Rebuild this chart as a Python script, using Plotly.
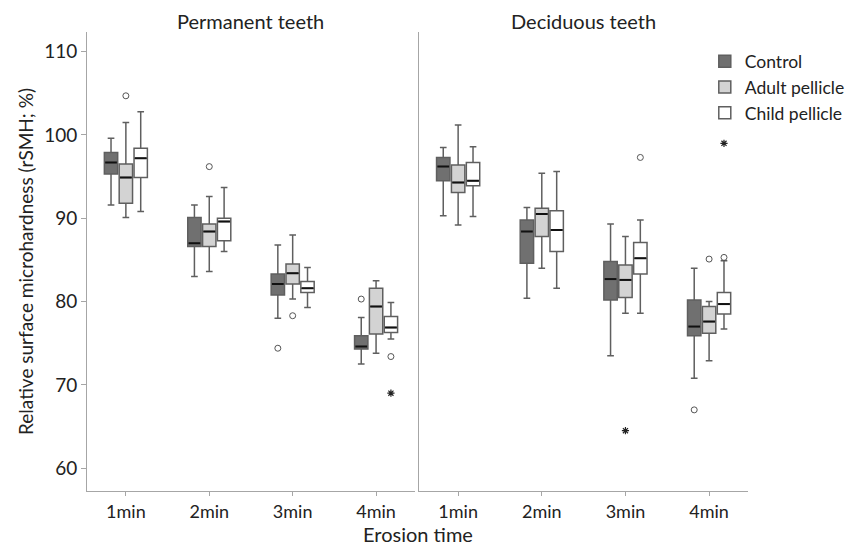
import plotly.graph_objects as go

categories = ["1min", "2min", "3min", "4min"]
series = ["Control", "Adult pellicle", "Child pellicle"]
panels = ["Permanent teeth", "Deciduous teeth"]

# Permanent teeth: per series lists over categories
perm_q1 = {"Control": [95.3, 86.6, 80.8, 74.3],
           "Adult pellicle": [91.8, 86.6, 82.1, 76.1],
           "Child pellicle": [94.9, 87.3, 81.1, 76.3]}
perm_med = {"Control": [96.7, 87.0, 82.1, 74.6],
            "Adult pellicle": [94.9, 88.4, 83.4, 79.4],
            "Child pellicle": [97.2, 89.6, 81.6, 76.9]}
perm_q3 = {"Control": [97.9, 90.1, 83.3, 75.9],
           "Adult pellicle": [96.5, 89.3, 84.5, 81.6],
           "Child pellicle": [98.4, 90.0, 82.4, 78.2]}
perm_lo = {"Control": [91.6, 83.0, 78.0, 72.5],
           "Adult pellicle": [90.1, 83.6, 80.3, 73.8],
           "Child pellicle": [90.8, 86.0, 79.3, 75.5]}
perm_hi = {"Control": [99.6, 91.6, 86.8, 78.1],
           "Adult pellicle": [101.5, 92.6, 88.0, 82.5],
           "Child pellicle": [102.8, 93.7, 84.1, 79.9]}

# Deciduous teeth
dec_q1 = {"Control": [94.5, 84.6, 80.2, 75.9],
          "Adult pellicle": [93.1, 87.8, 80.5, 76.2],
          "Child pellicle": [93.9, 86.0, 83.3, 78.5]}
dec_med = {"Control": [96.2, 88.4, 82.7, 77.0],
           "Adult pellicle": [94.3, 90.5, 82.6, 77.6],
           "Child pellicle": [94.5, 88.6, 85.2, 79.7]}
dec_q3 = {"Control": [97.3, 89.8, 84.8, 80.2],
          "Adult pellicle": [96.4, 91.2, 84.4, 79.4],
          "Child pellicle": [96.7, 90.9, 87.1, 81.1]}
dec_lo = {"Control": [90.3, 80.4, 73.5, 70.8],
          "Adult pellicle": [89.2, 84.0, 78.6, 72.9],
          "Child pellicle": [90.2, 81.6, 78.6, 76.7]}
dec_hi = {"Control": [98.5, 91.3, 89.3, 84.0],
          "Adult pellicle": [101.2, 95.4, 87.8, 80.0],
          "Child pellicle": [98.6, 95.6, 89.8, 84.9]}

# Outliers: (category index, value)
perm_circles = {"Control": [(2, 74.4), (3, 80.3)],
                "Adult pellicle": [(0, 104.7), (1, 96.2), (2, 78.3)],
                "Child pellicle": [(3, 73.4)]}
perm_stars = {"Control": [], "Adult pellicle": [], "Child pellicle": [(3, 69.0)]}
dec_circles = {"Control": [(3, 67.0)],
               "Adult pellicle": [(3, 85.1)],
               "Child pellicle": [(2, 97.3), (3, 85.3)]}
dec_stars = {"Control": [], "Adult pellicle": [(2, 64.5)], "Child pellicle": [(3, 99.0)]}

y_ticks = [60, 70, 80, 90, 100, 110]

# ---- styling ----
fills = {"Control": "#707070", "Adult pellicle": "#d3d3d3", "Child pellicle": "#ffffff"}
outline = "#5f5f5f"
offsets = {"Control": -0.178, "Adult pellicle": 0.0, "Child pellicle": 0.178}
box_w = 0.16
FONT = "Lato"
TXT = "#222222"

fig = go.Figure()

panel_data = [
    (perm_q1, perm_med, perm_q3, perm_lo, perm_hi, perm_circles, perm_stars, "x", "y"),
    (dec_q1, dec_med, dec_q3, dec_lo, dec_hi, dec_circles, dec_stars, "x2", "y2"),
]

for pi, (q1, med, q3, lo, hi, circ, stars, xa, ya) in enumerate(panel_data):
    for s in series:
        xs = [i + offsets[s] for i in range(len(categories))]
        fig.add_trace(go.Box(
            x=xs, q1=q1[s], median=med[s], q3=q3[s],
            lowerfence=lo[s], upperfence=hi[s],
            width=box_w, whiskerwidth=0.5, boxpoints=False,
            fillcolor=fills[s], line=dict(color=outline, width=1.5),
            name=s, legendgroup=s, showlegend=(pi == 0),
            xaxis=xa, yaxis=ya, orientation="v", hoverinfo="skip",
        ))
        # median lines in black
        mx, my = [], []
        for i, m in enumerate(med[s]):
            mx += [xs[i] - box_w / 2 + 0.01, xs[i] + box_w / 2 - 0.01, None]
            my += [m, m, None]
        fig.add_trace(go.Scatter(x=mx, y=my, mode="lines",
                                 line=dict(color="#111111", width=2),
                                 showlegend=False, hoverinfo="skip",
                                 xaxis=xa, yaxis=ya))
        if circ[s]:
            fig.add_trace(go.Scatter(
                x=[c + offsets[s] for c, v in circ[s]], y=[v for c, v in circ[s]],
                mode="markers", marker=dict(symbol="circle-open", size=6,
                                            color="#555555", line=dict(width=1)),
                showlegend=False, hoverinfo="skip", xaxis=xa, yaxis=ya))
        if stars[s]:
            fig.add_trace(go.Scatter(
                x=[c + offsets[s] for c, v in stars[s]], y=[v for c, v in stars[s]],
                mode="markers", marker=dict(symbol="asterisk-open", size=6,
                                            color="#222222", line=dict(width=1.2)),
                showlegend=False, hoverinfo="skip", xaxis=xa, yaxis=ya))

axis_col = "#a6a6a6"
xcommon = dict(range=[-0.466, 3.465], tickmode="array",
               tickvals=list(range(len(categories))), ticktext=categories,
               showgrid=False, zeroline=False, showline=True, linecolor=axis_col,
               linewidth=1, ticks="outside", ticklen=4, tickcolor=axis_col,
               tickfont=dict(family=FONT, size=18, color=TXT))

# page body has an 8px margin, so the figure is drawn 8px smaller and offset
fig.update_layout(
    width=854, height=539,
    margin=dict(l=79, r=107, t=24, b=56),
    plot_bgcolor="white", paper_bgcolor="white",
    showlegend=True,
    legend=dict(x=1.154, y=0.975, xanchor="right", yanchor="top",
                font=dict(family=FONT, size=17.5, color=TXT),
                bgcolor="rgba(0,0,0,0)", tracegroupgap=0, itemwidth=30),
    xaxis=dict(domain=[0, 0.496], anchor="y", **xcommon),
    xaxis2=dict(domain=[0.5025, 1], anchor="y2", **xcommon),
    yaxis=dict(range=[57.26, 112.36], tickvals=y_ticks, showgrid=False,
               zeroline=False, showline=True, linecolor=axis_col, linewidth=1,
               ticks="outside", ticklen=5, tickcolor=axis_col,
               tickfont=dict(family=FONT, size=19, color=TXT),
               title=dict(text="Relative surface microhardness (rSMH; %)",
                          font=dict(family=FONT, size=19, color=TXT),
                          standoff=5)),
    yaxis2=dict(range=[57.26, 112.36], anchor="x2", matches="y",
                showticklabels=False, showgrid=False, zeroline=False,
                showline=True, linecolor=axis_col, linewidth=1, ticks=""),
    annotations=[
        dict(text=panels[0], x=0.248, y=1.0, xref="paper", yref="paper",
             xanchor="center", yshift=-3, yanchor="bottom", showarrow=False,
             font=dict(family=FONT, size=20, color=TXT)),
        dict(text=panels[1], x=0.751, y=1.0, xref="paper", yref="paper",
             xanchor="center", yshift=-3, yanchor="bottom", showarrow=False,
             font=dict(family=FONT, size=20, color=TXT)),
        dict(text="Erosion time", x=0.5, y=0, xref="paper", yref="paper",
             xanchor="center", yshift=-29, yanchor="top", showarrow=False,
             font=dict(family=FONT, size=20, color=TXT)),
    ],
)

fig.write_html("out.html")
